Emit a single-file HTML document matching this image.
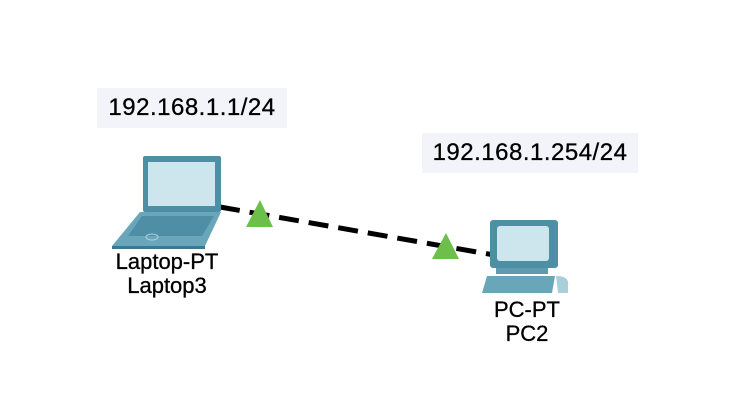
<!DOCTYPE html>
<html><head><style>
body{margin:0;width:748px;height:420px;background:#fff;overflow:hidden;position:relative;font-family:"Liberation Sans",sans-serif}
.lb{position:absolute;background:#f3f4fa;color:#000;font-size:24px;line-height:40px;text-align:center;letter-spacing:0.5px;-webkit-text-stroke:0.3px #000}
.t{position:absolute;font-size:22px;color:#000;text-align:center;line-height:24px;-webkit-text-stroke:0.3px #000}
</style></head><body>
<div class="lb" style="left:97px;top:88px;width:190px;height:40px">192.168.1.1/24</div>
<div class="lb" style="left:422px;top:133px;width:216px;height:40px">192.168.1.254/24</div>
<svg width="748" height="420" style="position:absolute;left:0;top:0">
<line x1="220" y1="207" x2="494" y2="255" stroke="#000" stroke-width="5" stroke-dasharray="20,10"/>
<rect x="143" y="156" width="78" height="56" fill="#4f8fa6" rx="2"/>
<rect x="148" y="162" width="67" height="44" fill="#cde6ee"/>
<polygon points="140,212 221,212 205,246 112,246" fill="#6aa6ba"/>
<polygon points="142,216 214,216 202,236 128,236" fill="#4f8fa6"/>
<polygon points="112,246 205,246 205,249 112,249" fill="#3d7890"/>
<ellipse cx="152" cy="237" rx="6" ry="3" fill="none" stroke="#a9cfdb"/>
<rect x="490" y="220" width="68" height="48" fill="#4f8fa6" rx="3"/>
<rect x="497" y="226" width="52" height="35" fill="#cde6ee" rx="3"/>
<rect x="496" y="268" width="52" height="6" fill="#5f9ab0"/>
<polygon points="487,276 555,276 552,293 482,293" fill="#6aa6ba"/>
<path d="M556 276 q14 0 12 10 v7 h-10 z" fill="#a9cfdb"/>
<polygon points="260,200 273,227 246,227" fill="#6cbf4a"/>
<polygon points="446,233 459,259 432,259" fill="#6cbf4a"/>
</svg>
<div class="t" style="left:97px;top:250px;width:140px">Laptop-PT<br>Laptop3</div>
<div class="t" style="left:457px;top:298px;width:140px">PC-PT<br>PC2</div>
</body></html>
